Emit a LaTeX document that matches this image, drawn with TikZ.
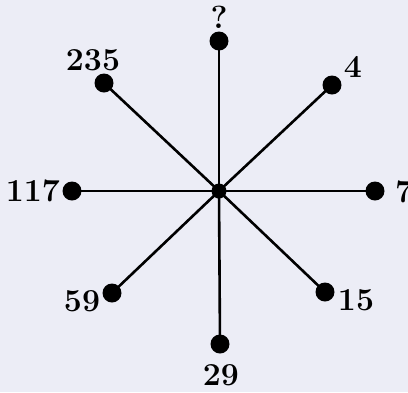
\documentclass[tikz,border=0pt]{standalone}
\definecolor{paper}{RGB}{236,237,246}
\begin{document}
\begin{tikzpicture}[x=1pt,y=-1pt,
  dot/.style={circle,fill=black,inner sep=0pt,minimum size=19pt},
  hub/.style={circle,fill=black,inner sep=0pt,minimum size=15pt},
  spoke/.style={line width=2.6pt,black},
  num/.style={inner sep=0pt,font=\bfseries\fontsize{32}{38}\selectfont}]
\fill[paper] (0,0) rectangle (408,392);
\useasboundingbox (0,0) rectangle (408,392);
\node[hub] (c) at (219,191) {};
\node[dot] (n) at (219,41) {};
\node[dot] (nw) at (104,83) {};
\node[dot] (ne) at (332,85) {};
\node[dot] (w) at (72,191) {};
\node[dot] (e) at (375,191) {};
\node[dot] (sw) at (112,293) {};
\node[dot] (se) at (325,292) {};
\node[dot] (s) at (220,344) {};
\foreach \p in {n,nw,ne,w,e,sw,se,s} \draw[spoke] (c.center) -- (\p.center);
\node[num] (ln) at (219,17) {?};
\node[num] (lnw) at (93,60) {235};
\node[num] (lne) at (353,67) {4};
\node[num,anchor=east] (lw) at (60,191) {117};
\node[num,anchor=west] (le) at (395,192) {7};
\node[num] (lsw) at (82,301) {59};
\node[num] (lse) at (356,300) {15};
\node[num] (ls) at (221,375) {29};
\end{tikzpicture}
\end{document}
